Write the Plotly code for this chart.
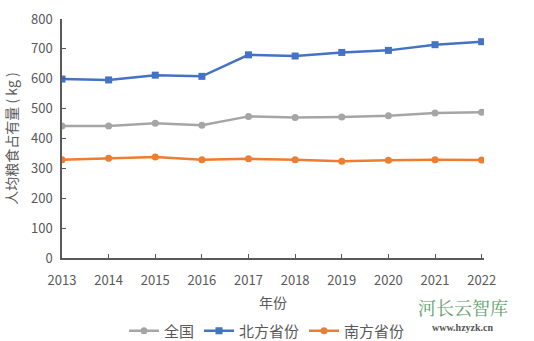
import plotly.graph_objects as go

years = [2013, 2014, 2015, 2016, 2017, 2018, 2019, 2020, 2021, 2022]
national = [442, 442, 451, 444, 474, 470, 472, 476, 485, 488]
northern = [599, 596, 612, 608, 680, 676, 688, 695, 714, 724]
southern = [329, 334, 338, 329, 332, 329, 324, 327, 329, 328]

series = [
    ("全国", national, "#A5A5A5", "circle", 7),
    ("北方省份", northern, "#4472C4", "square", 7),
    ("南方省份", southern, "#ED7D31", "circle", 7),
]

font_family = "Noto Sans CJK SC, Noto Sans, sans-serif"
axis_color = "#595959"

fig = go.Figure()
for name, values, color, symbol, size in series:
    fig.add_trace(go.Scatter(
        x=years, y=values, name=name, mode="lines+markers",
        line=dict(color=color, width=2.5),
        marker=dict(symbol=symbol, size=size, color=color),
    ))

fig.update_layout(
    width=534, height=341,
    margin=dict(l=62, r=50, t=19, b=83, autoexpand=False),
    paper_bgcolor="white", plot_bgcolor="white",
    font=dict(family=font_family, color=axis_color, size=13),
    showlegend=True,
    legend=dict(
        orientation="h", x=0.5, xref="container", xanchor="center",
        y=10 / 341, yref="container", yanchor="middle",
        font=dict(size=15, color=axis_color), itemwidth=30,
        tracegroupgap=0,
    ),
    xaxis=dict(
        range=[2013, 2022.05], tickmode="array", tickvals=years,
        ticktext=[str(y) for y in years],
        showline=True, linecolor=axis_color, linewidth=1.5,
        ticks="inside", ticklen=4, tickcolor=axis_color,
        ticklabelstandoff=10,
        showgrid=False, zeroline=False,
        title=dict(text="年份", font=dict(size=14, color=axis_color), standoff=10),
        tickfont=dict(size=13, color=axis_color),
    ),
    yaxis=dict(
        range=[0, 800], tickvals=list(range(0, 801, 100)),
        showline=True, linecolor=axis_color, linewidth=1.5,
        ticks="inside", ticklen=4, tickcolor=axis_color,
        ticklabelstandoff=5,
        showgrid=False, zeroline=False,
        title=dict(text="人均粮食占有量 ( kg )", font=dict(size=14, color=axis_color), standoff=10),
        tickfont=dict(size=13, color=axis_color),
    ),
)

fig.add_annotation(
    text="河长云智库", xref="paper", yref="paper", x=0.95, y=-0.205,
    xanchor="center", yanchor="middle", showarrow=False,
    font=dict(size=18, color="#5E9E6A", family="Noto Serif CJK SC, Noto Sans CJK SC, serif"),
)
fig.add_annotation(
    text="<b>www.hzyzk.cn</b>", xref="paper", yref="paper", x=0.95, y=-0.29,
    xanchor="center", yanchor="middle", showarrow=False,
    font=dict(size=10, color="#555555", family="Liberation Serif, DejaVu Serif, serif"),
)

fig.write_html("out.html")
